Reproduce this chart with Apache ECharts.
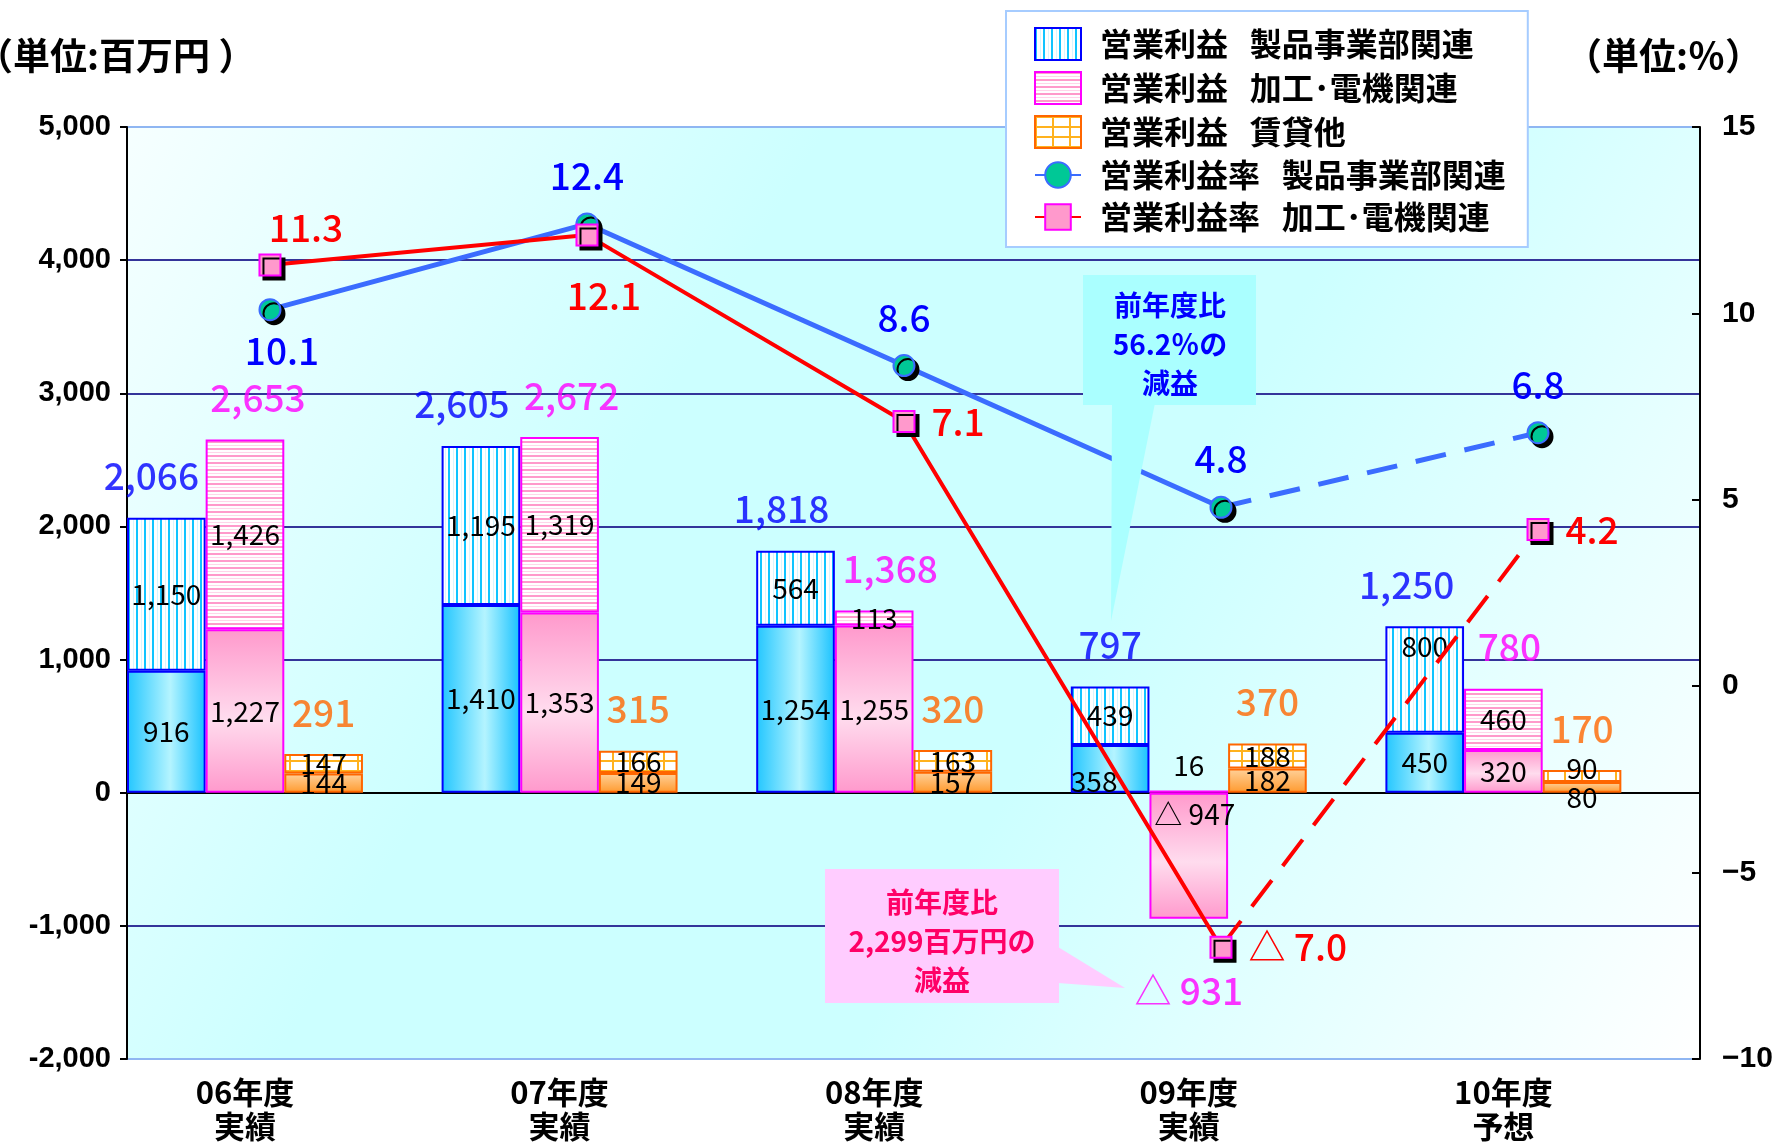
<!DOCTYPE html>
<html>
<head>
<meta charset="utf-8">
<script src="https://cdn.jsdelivr.net/npm/echarts@6/dist/echarts.min.js"></script>
<style>
html, body { margin: 0; padding: 0; background: #ffffff; }
#chart { width: 1777px; height: 1143px; }
</style>
</head>
<body>
<div id="chart"></div>
<script>
// 年度区分
const categories = ['06年度\n実績', '07年度\n実績', '08年度\n実績', '09年度\n実績', '10年度\n予想'];

// 営業利益（百万円）— each stacked bar has a lower and an upper part
const productBase  = [916, 1410, 1254, 358, 450];     // 製品事業部関連
const productUpper = [1150, 1195, 564, 439, 800];
const machineBase  = [1227, 1353, 1255, -947, 320];   // 加工・電機関連
const machineUpper = [1426, 1319, 113, 16, 460];
const rentBase     = [144, 149, 157, 182, 80];         // 賃貸他
const rentUpper    = [147, 166, 163, 188, 90];

// 営業利益率（%）
const productRate = [10.1, 12.4, 8.6, 4.8, 6.8];
const machineRate = [11.3, 12.1, 7.1, -7.0, 4.2];

// series names shown in the legend
const NAME_PRODUCT = '営業利益   製品事業部関連';
const NAME_MACHINE = '営業利益   加工･電機関連';
const NAME_RENT = '営業利益   賃貸他';
const NAME_PRODUCT_RATE = '営業利益率   製品事業部関連';
const NAME_MACHINE_RATE = '営業利益率   加工･電機関連';

const FONT = "'Noto Sans CJK JP', 'Noto Sans', sans-serif";
const NUMFONT = "'Liberation Sans', 'Noto Sans CJK JP', sans-serif";

const fmtNum = v => (v < 0 ? '△ ' + Math.abs(v).toLocaleString('en-US') : v.toLocaleString('en-US'));
const fmtRate = v => (v < 0 ? '△ ' + Math.abs(v).toFixed(1) : v.toFixed(1));

// hatch fills
function pattern(w, h, draw) {
  const c = document.createElement('canvas');
  c.width = w; c.height = h;
  draw(c.getContext('2d'), w, h);
  return { image: c, repeat: 'repeat' };
}
const vStripe = pattern(8, 8, (g, w, h) => {
  g.fillStyle = '#ffffff'; g.fillRect(0, 0, w, h);
  g.fillStyle = '#d8f6ff'; g.fillRect(5, 0, 1, h);
  g.fillStyle = '#10c4ff'; g.fillRect(0, 0, 2, h);
});
const hStripe = pattern(8, 7, (g, w, h) => {
  g.fillStyle = '#ffffff'; g.fillRect(0, 0, w, h);
  g.fillStyle = '#ffd6ea'; g.fillRect(0, 4, w, 1);
  g.fillStyle = '#ff9acb'; g.fillRect(0, 0, w, 2);
});
const gridFill = pattern(17, 10, (g, w, h) => {
  g.fillStyle = '#ffffff'; g.fillRect(0, 0, w, h);
  g.fillStyle = '#ffb21e'; g.fillRect(0, 0, 2, h); g.fillRect(0, 0, w, 2);
});

const productBaseFill = new echarts.graphic.LinearGradient(0, 0, 1, 0, [
  { offset: 0, color: '#22c6ff' }, { offset: 0.55, color: '#b4f4ff' }, { offset: 1, color: '#18c2ff' }
]);
const machineBaseFill = new echarts.graphic.LinearGradient(0, 0, 0, 1, [
  { offset: 0, color: '#ff99cc' }, { offset: 0.55, color: '#ffdcee' }, { offset: 1, color: '#ff99cc' }
]);
const rentBaseFill = new echarts.graphic.LinearGradient(0, 0, 0, 1, [
  { offset: 0, color: '#ffd29c' }, { offset: 1, color: '#ff9a2e' }
]);

const segLabel = {
  show: true, position: 'inside', color: '#000', fontSize: 28, fontFamily: FONT,
  formatter: p => fmtNum(p.value)
};

// per-bar label tweaks, keyed by index
function withLabels(values, tweaks) {
  return values.map((v, i) => (tweaks[i] ? { value: v, label: tweaks[i] } : v));
}

function barSeries(name, stack, values, fill, border, tweaks) {
  return {
    name, type: 'bar', stack, xAxisIndex: 0, yAxisIndex: 0,
    barGap: '0%', barCategoryGap: '0%',
    itemStyle: { color: fill, borderColor: border, borderWidth: 2 },
    label: segLabel,
    data: withLabels(values, tweaks || {})
  };
}

// totals above each stacked bar (band width / 4 per bar slot)
const SLOT = 1573 / 5 / 4;
function totalSeries(base, upper, slotShift, color, shifts) {
  return {
    type: 'scatter', xAxisIndex: 0, yAxisIndex: 0, symbolSize: 0, silent: true, z: 6,
    data: base.map((v, i) => {
      const t = v + upper[i];
      return {
        value: [i, t],
        label: { position: t < 0 ? 'bottom' : 'top', distance: t < 0 ? 56 : 23, offset: [slotShift + shifts[i], 0] }
      };
    }),
    label: { show: true, color, fontSize: 37, fontWeight: 500, fontFamily: FONT, formatter: p => fmtNum(p.value[1]) }
  };
}

function rateSeries(name, rates, color, width, symbol, markerFill, markerBorder, labelColor, tweaks, dash) {
  const solid = rates.slice(0, 4).map((v, i) => ({ value: [i, v], label: tweaks[i] }));
  const dashed = rates.slice(3).map((v, k) => (k === 0
    ? { value: [3, v], symbol: 'none', label: { show: false } }
    : { value: [3 + k, v], label: tweaks[3 + k] }));
  const common = {
    name, type: 'line', xAxisIndex: 1, yAxisIndex: 1, z: 8,
    symbol, symbolSize: 21,
    itemStyle: { color: markerFill, borderColor: markerBorder, borderWidth: 2,
      shadowColor: '#000', shadowBlur: 0, shadowOffsetX: 4, shadowOffsetY: 4 },
    label: { show: true, color: labelColor, fontSize: 37, fontWeight: 500, fontFamily: FONT,
      formatter: p => fmtRate(p.value[1]) }
  };
  return [
    Object.assign({}, common, { data: solid, lineStyle: { color, width } }),
    Object.assign({}, common, { data: dashed, lineStyle: { color, width, type: dash } })
  ];
}

const chart = echarts.init(document.getElementById('chart'), null, { renderer: 'canvas' });

const option = {
  animation: false,
  grid: {
    left: 127, right: 77, top: 127, bottom: 82, show: true, borderWidth: 0,
    backgroundColor: new echarts.graphic.LinearGradient(0, 0, 1, 1, [
      { offset: 0, color: '#f6ffff' }, { offset: 0.33, color: '#ccffff' },
      { offset: 0.6, color: '#ccffff' }, { offset: 1, color: '#ffffff' }
    ])
  },
  legend: {
    orient: 'vertical', left: 1006, top: 11,
    backgroundColor: '#ffffff', borderColor: '#a6ccff', borderWidth: 2,
    padding: [16, 22, 14, 28], itemWidth: 46, itemHeight: 32, itemGap: 10,
    textStyle: { fontSize: 32, fontWeight: 'bold', fontFamily: FONT, color: '#000', padding: [0, 0, 0, 14] },
    selectedMode: false,
    data: [
      { name: NAME_PRODUCT, icon: 'rect' },
      { name: NAME_MACHINE, icon: 'rect' },
      { name: NAME_RENT, icon: 'rect' },
      { name: NAME_PRODUCT_RATE },
      { name: NAME_MACHINE_RATE }
    ]
  },
  xAxis: [
    {
      type: 'category', data: categories, position: 'bottom',
      axisLine: { show: false, onZero: false }, axisTick: { show: false },
      axisLabel: {
        color: '#000', fontSize: 31, fontWeight: 'bold', fontFamily: FONT, lineHeight: 34,
        margin: 16, padding: [0, SLOT, 0, 0]
      },
      splitLine: { show: false }
    },
    { type: 'value', min: -0.451, max: 4.511, show: false }
  ],
  yAxis: [
    {
      type: 'value', min: -2000, max: 5000, interval: 1000, position: 'left',
      axisLine: { show: true, onZero: false, lineStyle: { color: '#000', width: 2 } },
      axisTick: { show: true, length: 7, lineStyle: { color: '#000', width: 2 } },
      axisLabel: { color: '#000', fontSize: 29, fontWeight: 'bold', fontFamily: NUMFONT, margin: 16,
        formatter: v => v.toLocaleString('en-US') },
      splitLine: { show: true, lineStyle: { width: 2,
        color: ['#8fb6f2', '#34349a', '#000000', '#34349a', '#34349a', '#34349a', '#34349a', '#8fb6f2'] } }
    },
    {
      type: 'value', min: -10, max: 15, interval: 5, position: 'right',
      axisLine: { show: true, onZero: false, lineStyle: { color: '#000', width: 2 } },
      axisTick: { show: true, inside: true, length: 8, lineStyle: { color: '#000', width: 2 } },
      axisLabel: { color: '#000', fontSize: 30, fontWeight: 'bold', fontFamily: NUMFONT, margin: 22,
        formatter: v => (v < 0 ? '−' + Math.abs(v) : String(v)) },
      splitLine: { show: false }
    }
  ],
  series: [
    barSeries('製品事業部関連 下段', 'product', productBase, productBaseFill, '#0000ff',
      { 3: { offset: [-16, 12] } }),
    barSeries(NAME_PRODUCT, 'product', productUpper, vStripe, '#0000ff',
      { 4: { position: 'insideTop', distance: 6 } }),
    barSeries('加工･電機関連 下段', 'machine', machineBase, machineBaseFill, '#ff00ff',
      { 3: { position: 'insideTop', distance: 8, offset: [6, 0] } }),
    barSeries(NAME_MACHINE, 'machine', machineUpper, hStripe, '#ff00ff',
      { 3: { position: 'top', distance: 11 } }),
    barSeries('賃貸他 下段', 'rent', rentBase, rentBaseFill, '#ff6600',
      { 4: { offset: [0, 10] } }),
    barSeries(NAME_RENT, 'rent', rentUpper, gridFill, '#ff6600',
      { 4: { offset: [0, -8] } }),
    // empty fourth slot keeps each group of three bars at the left of its band
    { type: 'bar', stack: 'blank', data: [], silent: true, barGap: '0%', barCategoryGap: '0%' },

    totalSeries(productBase, productUpper, -1.5 * SLOT, '#0000ff', [-15, -19, -14, 0, -18]),
    totalSeries(machineBase, machineUpper, -0.5 * SLOT, '#ff00ff', [13, 12, 16, 0, 6]),
    totalSeries(rentBase, rentUpper, 0.5 * SLOT, '#ff6600', [0, 0, 0, 0, 0]),

    ...rateSeries(NAME_PRODUCT_RATE, productRate, '#3b6cff', 5, 'circle', '#00c896', '#3b6cff', '#0000ff', [
      { position: 'bottom', distance: 11, offset: [12, 0] },
      { position: 'top', distance: 18 },
      { position: 'top', distance: 18 },
      { position: 'top', distance: 18 },
      { position: 'top', distance: 18 }
    ], [31, 19]),
    ...rateSeries(NAME_MACHINE_RATE, machineRate, '#ff0000', 4, 'rect', '#ff99cc', '#ff00ff', '#ff0000', [
      { position: 'top', distance: 7, offset: [36, 0] },
      { position: 'bottom', distance: 31, offset: [17, 0] },
      { position: 'right', distance: 16 },
      { position: 'right', distance: 16 },
      { position: 'right', distance: 16 }
    ], [33, 18])
  ],
  graphic: [
    { type: 'text', left: -24, top: 37, z: 50,
      style: { text: '（単位:百万円 ）', fontSize: 37, fontWeight: 'bold', fontFamily: FONT, fill: '#000' } },
    { type: 'text', right: 15, top: 37, z: 50,
      style: { text: '（単位:％）', fontSize: 37, fontWeight: 'bold', fontFamily: FONT, fill: '#000' } },

    // 製品事業部関連の減益コメント
    { type: 'polygon', z: 50, shape: { points: [[1112, 403], [1155, 403], [1111, 621]] }, style: { fill: '#aaffff' } },
    { type: 'rect', z: 50, shape: { x: 1083, y: 275, width: 173, height: 130 }, style: { fill: '#aaffff' } },
    { type: 'text', z: 51, x: 1170, y: 344,
      style: { text: '前年度比\n56.2％の\n減益', fontSize: 28, fontWeight: 'bold', fontFamily: FONT,
        fill: '#0000ff', align: 'center', verticalAlign: 'middle', lineHeight: 39 } },

    // 加工・電機関連の減益コメント
    { type: 'polygon', z: 50, shape: { points: [[1058, 947], [1058, 983], [1125, 988]] }, style: { fill: '#ffccff' } },
    { type: 'rect', z: 50, shape: { x: 825, y: 869, width: 234, height: 134 }, style: { fill: '#ffccff' } },
    { type: 'text', z: 51, x: 942, y: 941,
      style: { text: '前年度比\n2,299百万円の\n減益', fontSize: 28, fontWeight: 'bold', fontFamily: FONT,
        fill: '#ff0066', align: 'center', verticalAlign: 'middle', lineHeight: 39 } }
  ]
};

chart.setOption(option);
</script>
</body>
</html>
